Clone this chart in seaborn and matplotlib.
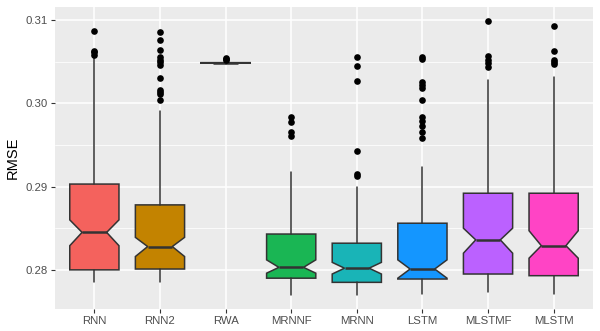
import matplotlib
matplotlib.use('Agg')
import matplotlib.pyplot as plt
from matplotlib.ticker import MultipleLocator
import seaborn as sns
import pandas as pd

# model order and fill colours (ggplot-like hue palette)
models = ['RNN', 'RNN2', 'RWA', 'MRNNF', 'MRNN', 'LSTM', 'MLSTMF', 'MLSTM']
fills = ['#F4625D', '#C38300', '#6FA000', '#1AB654', '#19B4B7', '#1496FF', '#BB61FF', '#FF44C5']

# box summaries
whis_lo = [0.2786, 0.2785, 0.30475, 0.2770, 0.2770, 0.2771, 0.2773, 0.2771]
q1      = [0.2800, 0.2801, 0.30482, 0.2790, 0.2785, 0.2789, 0.2795, 0.2793]
med     = [0.2845, 0.2828, 0.30485, 0.2803, 0.2802, 0.2801, 0.2836, 0.2829]
q3      = [0.2903, 0.2878, 0.30488, 0.2843, 0.2832, 0.2856, 0.2892, 0.2892]
whis_hi = [0.3054, 0.2991, 0.30500, 0.2918, 0.2899, 0.2923, 0.3028, 0.3031]
notch_lo = [0.2829, 0.2816, 0.30484, 0.2796, 0.2795, 0.2790, 0.2820, 0.2814]
notch_hi = [0.2860, 0.2839, 0.30486, 0.2812, 0.2809, 0.2812, 0.2850, 0.2847]

# outlier points
out_model = (['RNN'] * 4 + ['RNN2'] * 12 + ['RWA'] * 3 + ['MRNNF'] * 4 +
             ['MRNN'] * 6 + ['LSTM'] * 11 + ['MLSTMF'] * 5 + ['MLSTM'] * 5)
out_rmse = [0.3087, 0.3063, 0.3061, 0.3058,
            0.3085, 0.3076, 0.3064, 0.3056, 0.3052, 0.3050, 0.3046, 0.3030, 0.3016, 0.3013, 0.3011, 0.3004,
            0.3054, 0.3053, 0.3052,
            0.2984, 0.2977, 0.2965, 0.2961,
            0.3055, 0.3045, 0.3027, 0.2943, 0.2915, 0.2913,
            0.3055, 0.3053, 0.3025, 0.3022, 0.3018, 0.3004, 0.2984, 0.2979, 0.2973, 0.2966, 0.2958,
            0.3099, 0.3057, 0.3052, 0.3048, 0.3043,
            0.3093, 0.3063, 0.3052, 0.3049, 0.3047]

df_out = pd.DataFrame({'model': out_model, 'rmse': out_rmse})

sns.set_theme(style='darkgrid', rc={
    'axes.facecolor': '#EBEBEB',
    'grid.color': 'white',
    'xtick.color': '#333333',
    'ytick.color': '#333333',
    'xtick.labelcolor': '#4D4D4D',
    'ytick.labelcolor': '#4D4D4D',
    'xtick.bottom': True,
    'ytick.left': True,
    'xtick.major.size': 3,
    'ytick.major.size': 3,
    'xtick.major.width': 0.8,
    'ytick.major.width': 0.8,
    'xtick.major.pad': 2,
    'ytick.major.pad': 2,
})
plt.rcParams['font.family'] = ['Liberation Sans', 'DejaVu Sans']

fig, ax = plt.subplots(figsize=(6, 3.31), dpi=100)
fig.subplots_adjust(left=55/600, right=593/600, top=1-7/331, bottom=1-309/331)

sns.stripplot(data=df_out, x='model', y='rmse', order=models, jitter=False,
              color='black', size=4.8, linewidth=0, ax=ax, zorder=4)

stats = []
for i, m in enumerate(models):
    stats.append({'label': m, 'whislo': whis_lo[i], 'q1': q1[i], 'med': med[i],
                  'q3': q3[i], 'whishi': whis_hi[i], 'cilo': notch_lo[i],
                  'cihi': notch_hi[i], 'fliers': []})

bp = ax.bxp(stats, positions=range(len(models)), widths=0.75, shownotches=True,
            patch_artist=True, showcaps=False, showfliers=False, manage_ticks=False,
            boxprops=dict(edgecolor='#333333', linewidth=1.1),
            whiskerprops=dict(color='#333333', linewidth=1.1),
            medianprops=dict(color='#333333', linewidth=1.8))
for patch, c in zip(bp['boxes'], fills):
    patch.set_facecolor(c)
    patch.set_zorder(2)

ax.set_xlim(-0.6, 7.6)
ax.set_ylim(0.2753, 0.31156)
ax.yaxis.set_major_locator(MultipleLocator(0.01))
ax.yaxis.set_minor_locator(MultipleLocator(0.005))
ax.set_yticks([0.28, 0.29, 0.30, 0.31])
ax.set_yticklabels(['0.28', '0.29', '0.30', '0.31'])
ax.xaxis.grid(True, color='white', linewidth=1.1)
ax.yaxis.grid(True, which='major', color='white', linewidth=1.1)
ax.yaxis.grid(True, which='minor', color='white', linewidth=0.55)
ax.set_axisbelow(True)
ax.tick_params(axis='both', labelsize=8.2)
ax.tick_params(axis='y', which='minor', left=False)
ax.set_xlabel('')
ax.set_ylabel('RMSE', fontsize=10.5, color='black', labelpad=4)
for s in ax.spines.values():
    s.set_visible(False)

plt.savefig('out.png', dpi=100)
